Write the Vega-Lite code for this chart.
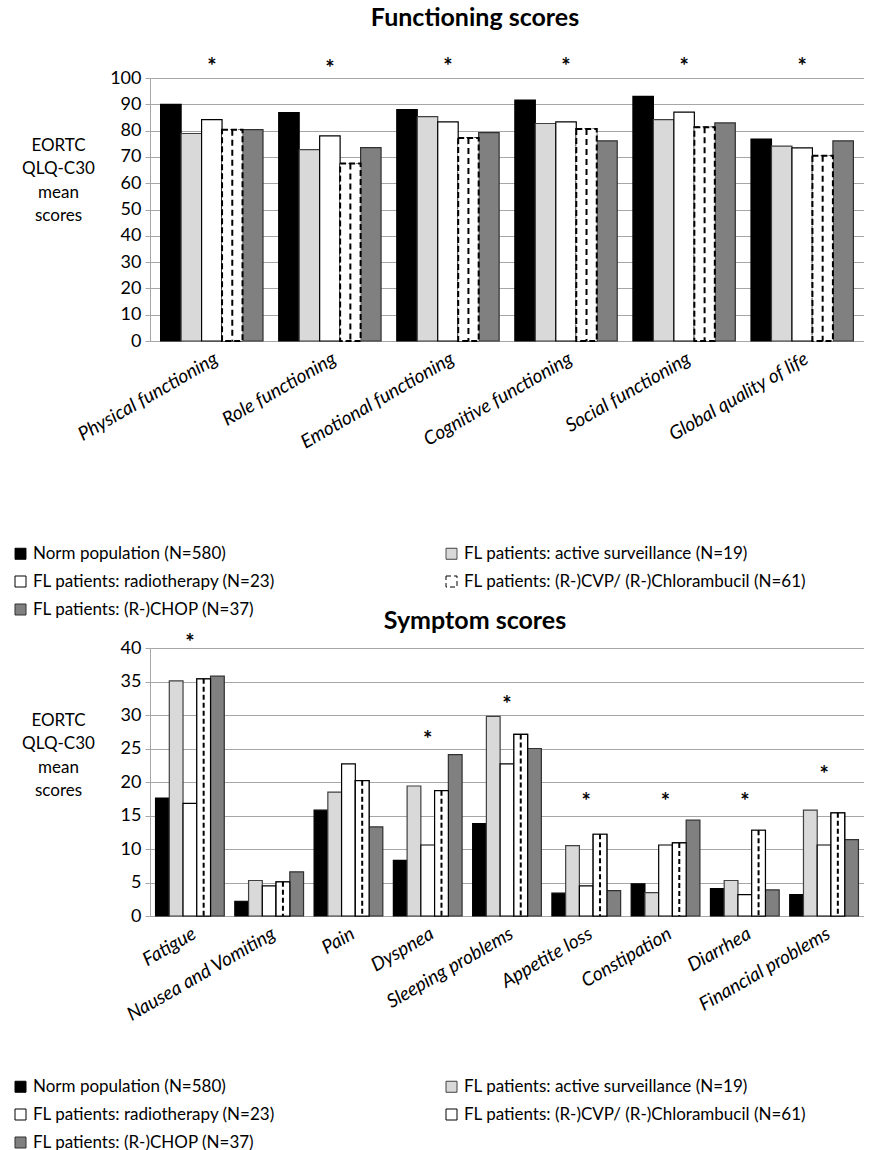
{
  "$schema": "https://vega.github.io/schema/vega-lite/v6.json",
  "padding": {"left": 12, "top": 6, "right": 0, "bottom": 0},
  "bounds": "flush",
  "spacing": 307,
  "resolve": {
    "scale": {"x": "independent", "y": "independent", "xOffset": "independent", "fill": "independent", "stroke": "independent", "strokeDash": "independent"},
    "legend": {"fill": "independent", "stroke": "independent", "strokeDash": "independent"}
  },
  "config": {
    "font": "Lato",
    "view": {"stroke": null},
    "axis": {"labelFont": "Lato", "titleFont": "Lato", "labelColor": "#000000", "titleColor": "#000000", "domainColor": "#a6a6a6", "gridColor": "#a6a6a6", "tickColor": "#a6a6a6"},
    "legend": {"labelFont": "Lato", "labelFontSize": 17, "labelColor": "#000000", "symbolType": "square", "symbolSize": 121, "symbolStrokeWidth": 1, "labelLimit": 0}
  },
  "datasets": {
    "functioning": [
      {"domain": "Physical functioning", "group": "Norm population (N=580)", "value": 90.0},
      {"domain": "Physical functioning", "group": "FL patients: active surveillance (N=19)", "value": 78.9},
      {"domain": "Physical functioning", "group": "FL patients: radiotherapy (N=23)", "value": 84.2},
      {"domain": "Physical functioning", "group": "FL patients: (R-)CVP/ (R-)Chlorambucil (N=61)", "value": 80.3},
      {"domain": "Physical functioning", "group": "FL patients: (R-)CHOP (N=37)", "value": 80.4},
      {"domain": "Role functioning", "group": "Norm population (N=580)", "value": 86.8},
      {"domain": "Role functioning", "group": "FL patients: active surveillance (N=19)", "value": 72.8},
      {"domain": "Role functioning", "group": "FL patients: radiotherapy (N=23)", "value": 78.0},
      {"domain": "Role functioning", "group": "FL patients: (R-)CVP/ (R-)Chlorambucil (N=61)", "value": 67.5},
      {"domain": "Role functioning", "group": "FL patients: (R-)CHOP (N=37)", "value": 73.5},
      {"domain": "Emotional functioning", "group": "Norm population (N=580)", "value": 88.0},
      {"domain": "Emotional functioning", "group": "FL patients: active surveillance (N=19)", "value": 85.3},
      {"domain": "Emotional functioning", "group": "FL patients: radiotherapy (N=23)", "value": 83.3},
      {"domain": "Emotional functioning", "group": "FL patients: (R-)CVP/ (R-)Chlorambucil (N=61)", "value": 77.2},
      {"domain": "Emotional functioning", "group": "FL patients: (R-)CHOP (N=37)", "value": 79.2},
      {"domain": "Cognitive functioning", "group": "Norm population (N=580)", "value": 91.6},
      {"domain": "Cognitive functioning", "group": "FL patients: active surveillance (N=19)", "value": 82.7},
      {"domain": "Cognitive functioning", "group": "FL patients: radiotherapy (N=23)", "value": 83.3},
      {"domain": "Cognitive functioning", "group": "FL patients: (R-)CVP/ (R-)Chlorambucil (N=61)", "value": 80.6},
      {"domain": "Cognitive functioning", "group": "FL patients: (R-)CHOP (N=37)", "value": 76.1},
      {"domain": "Social functioning", "group": "Norm population (N=580)", "value": 93.0},
      {"domain": "Social functioning", "group": "FL patients: active surveillance (N=19)", "value": 84.2},
      {"domain": "Social functioning", "group": "FL patients: radiotherapy (N=23)", "value": 87.0},
      {"domain": "Social functioning", "group": "FL patients: (R-)CVP/ (R-)Chlorambucil (N=61)", "value": 81.3},
      {"domain": "Social functioning", "group": "FL patients: (R-)CHOP (N=37)", "value": 82.9},
      {"domain": "Global quality of life", "group": "Norm population (N=580)", "value": 76.8},
      {"domain": "Global quality of life", "group": "FL patients: active surveillance (N=19)", "value": 74.1},
      {"domain": "Global quality of life", "group": "FL patients: radiotherapy (N=23)", "value": 73.4},
      {"domain": "Global quality of life", "group": "FL patients: (R-)CVP/ (R-)Chlorambucil (N=61)", "value": 70.4},
      {"domain": "Global quality of life", "group": "FL patients: (R-)CHOP (N=37)", "value": 76.1}
    ],
    "functioning_stars": [
      {"domain": "Physical functioning", "star": 106.0},
      {"domain": "Role functioning", "star": 105.2},
      {"domain": "Emotional functioning", "star": 106.0},
      {"domain": "Cognitive functioning", "star": 106.0},
      {"domain": "Social functioning", "star": 106.0},
      {"domain": "Global quality of life", "star": 106.0}
    ],
    "symptom": [
      {"domain": "Fatigue", "group": "Norm population (N=580)", "value": 17.6},
      {"domain": "Fatigue", "group": "FL patients: active surveillance (N=19)", "value": 35.1},
      {"domain": "Fatigue", "group": "FL patients: radiotherapy (N=23)", "value": 16.8},
      {"domain": "Fatigue", "group": "FL patients: (R-)CVP/ (R-)Chlorambucil (N=61)", "value": 35.4},
      {"domain": "Fatigue", "group": "FL patients: (R-)CHOP (N=37)", "value": 35.8},
      {"domain": "Nausea and Vomiting", "group": "Norm population (N=580)", "value": 2.2},
      {"domain": "Nausea and Vomiting", "group": "FL patients: active surveillance (N=19)", "value": 5.3},
      {"domain": "Nausea and Vomiting", "group": "FL patients: radiotherapy (N=23)", "value": 4.5},
      {"domain": "Nausea and Vomiting", "group": "FL patients: (R-)CVP/ (R-)Chlorambucil (N=61)", "value": 5.1},
      {"domain": "Nausea and Vomiting", "group": "FL patients: (R-)CHOP (N=37)", "value": 6.6},
      {"domain": "Pain", "group": "Norm population (N=580)", "value": 15.8},
      {"domain": "Pain", "group": "FL patients: active surveillance (N=19)", "value": 18.5},
      {"domain": "Pain", "group": "FL patients: radiotherapy (N=23)", "value": 22.7},
      {"domain": "Pain", "group": "FL patients: (R-)CVP/ (R-)Chlorambucil (N=61)", "value": 20.2},
      {"domain": "Pain", "group": "FL patients: (R-)CHOP (N=37)", "value": 13.3},
      {"domain": "Dyspnea", "group": "Norm population (N=580)", "value": 8.3},
      {"domain": "Dyspnea", "group": "FL patients: active surveillance (N=19)", "value": 19.4},
      {"domain": "Dyspnea", "group": "FL patients: radiotherapy (N=23)", "value": 10.6},
      {"domain": "Dyspnea", "group": "FL patients: (R-)CVP/ (R-)Chlorambucil (N=61)", "value": 18.7},
      {"domain": "Dyspnea", "group": "FL patients: (R-)CHOP (N=37)", "value": 24.1},
      {"domain": "Sleeping problems", "group": "Norm population (N=580)", "value": 13.8},
      {"domain": "Sleeping problems", "group": "FL patients: active surveillance (N=19)", "value": 29.8},
      {"domain": "Sleeping problems", "group": "FL patients: radiotherapy (N=23)", "value": 22.7},
      {"domain": "Sleeping problems", "group": "FL patients: (R-)CVP/ (R-)Chlorambucil (N=61)", "value": 27.1},
      {"domain": "Sleeping problems", "group": "FL patients: (R-)CHOP (N=37)", "value": 25.0},
      {"domain": "Appetite loss", "group": "Norm population (N=580)", "value": 3.4},
      {"domain": "Appetite loss", "group": "FL patients: active surveillance (N=19)", "value": 10.5},
      {"domain": "Appetite loss", "group": "FL patients: radiotherapy (N=23)", "value": 4.5},
      {"domain": "Appetite loss", "group": "FL patients: (R-)CVP/ (R-)Chlorambucil (N=61)", "value": 12.2},
      {"domain": "Appetite loss", "group": "FL patients: (R-)CHOP (N=37)", "value": 3.8},
      {"domain": "Constipation", "group": "Norm population (N=580)", "value": 4.8},
      {"domain": "Constipation", "group": "FL patients: active surveillance (N=19)", "value": 3.5},
      {"domain": "Constipation", "group": "FL patients: radiotherapy (N=23)", "value": 10.6},
      {"domain": "Constipation", "group": "FL patients: (R-)CVP/ (R-)Chlorambucil (N=61)", "value": 10.9},
      {"domain": "Constipation", "group": "FL patients: (R-)CHOP (N=37)", "value": 14.3},
      {"domain": "Diarrhea", "group": "Norm population (N=580)", "value": 4.1},
      {"domain": "Diarrhea", "group": "FL patients: active surveillance (N=19)", "value": 5.3},
      {"domain": "Diarrhea", "group": "FL patients: radiotherapy (N=23)", "value": 3.2},
      {"domain": "Diarrhea", "group": "FL patients: (R-)CVP/ (R-)Chlorambucil (N=61)", "value": 12.8},
      {"domain": "Diarrhea", "group": "FL patients: (R-)CHOP (N=37)", "value": 3.9},
      {"domain": "Financial problems", "group": "Norm population (N=580)", "value": 3.2},
      {"domain": "Financial problems", "group": "FL patients: active surveillance (N=19)", "value": 15.8},
      {"domain": "Financial problems", "group": "FL patients: radiotherapy (N=23)", "value": 10.6},
      {"domain": "Financial problems", "group": "FL patients: (R-)CVP/ (R-)Chlorambucil (N=61)", "value": 15.4},
      {"domain": "Financial problems", "group": "FL patients: (R-)CHOP (N=37)", "value": 11.4}
    ],
    "symptom_stars": [
      {"domain": "Fatigue", "star": 41.5},
      {"domain": "Dyspnea", "star": 27.0},
      {"domain": "Sleeping problems", "star": 32.3},
      {"domain": "Appetite loss", "star": 17.8},
      {"domain": "Constipation", "star": 17.8},
      {"domain": "Diarrhea", "star": 17.8},
      {"domain": "Financial problems", "star": 21.8}
    ]
  },
  "vconcat": [
    {
      "title": {"text": "Functioning scores", "fontSize": 25, "fontWeight": "bold", "font": "Lato", "anchor": "middle", "dx": -32, "offset": 25, "color": "#000000"},
      "width": 714,
      "height": 263,
      "layer": [
        {
          "data": {"name": "functioning"},
          "mark": {"type": "bar", "strokeWidth": 1.2},
          "encoding": {
            "x": {"field": "domain", "type": "nominal", "sort": null,
              "scale": {"paddingInner": 0.133, "paddingOuter": 0.09},
              "axis": {"title": null, "labelAngle": -30, "labelFontSize": 19, "labelFontStyle": "italic", "ticks": false, "labelPadding": 8, "labelLimit": 0}},
            "xOffset": {"field": "group", "type": "nominal", "sort": null,
              "scale": {"paddingInner": 0, "paddingOuter": 0, "domain": ["Norm population (N=580)", "FL patients: active surveillance (N=19)", "FL patients: radiotherapy (N=23)", "FL patients: (R-)CVP/ (R-)Chlorambucil (N=61)", "FL patients: (R-)CHOP (N=37)"]}},
            "y": {"field": "value", "type": "quantitative",
              "scale": {"domain": [0, 100], "nice": false},
              "axis": {"values": [0, 10, 20, 30, 40, 50, 60, 70, 80, 90, 100], "labelFontSize": 18, "tickSize": 5, "labelPadding": 4, "labelOverlap": false,
                "title": ["EORTC", "QLQ-C30", "mean", "scores"], "titleAngle": 0, "titleAlign": "center", "titleBaseline": "top", "titleX": -92, "titleY": 59, "titleFontSize": 17, "titleFontWeight": "normal", "titleLineHeight": 23.5}},
            "fill": {"field": "group", "type": "nominal", "sort": null,
              "scale": {"domain": ["Norm population (N=580)", "FL patients: active surveillance (N=19)", "FL patients: radiotherapy (N=23)", "FL patients: (R-)CVP/ (R-)Chlorambucil (N=61)", "FL patients: (R-)CHOP (N=37)"], "range": ["#000000", "#d9d9d9", "#ffffff", "#ffffff", "#808080"]},
              "legend": {"orient": "none", "legendX": -138, "legendY": 467, "columns": 2, "direction": "horizontal", "title": null, "rowPadding": 10, "columnPadding": 167, "labelOffset": 4}},
            "stroke": {"field": "group", "type": "nominal", "sort": null,
              "scale": {"domain": ["Norm population (N=580)", "FL patients: active surveillance (N=19)", "FL patients: radiotherapy (N=23)", "FL patients: (R-)CVP/ (R-)Chlorambucil (N=61)", "FL patients: (R-)CHOP (N=37)"], "range": ["#000000", "#404040", "#000000", "#000000", "#303030"]},
              "legend": {"orient": "none", "legendX": -138, "legendY": 467, "columns": 2, "direction": "horizontal", "title": null, "rowPadding": 10, "columnPadding": 167, "labelOffset": 4}},
            "strokeDash": {"field": "group", "type": "nominal", "sort": null,
              "scale": {"domain": ["Norm population (N=580)", "FL patients: active surveillance (N=19)", "FL patients: radiotherapy (N=23)", "FL patients: (R-)CVP/ (R-)Chlorambucil (N=61)", "FL patients: (R-)CHOP (N=37)"], "range": [[1, 0], [1, 0], [1, 0], [5, 3], [1, 0]]},
              "legend": {"orient": "none", "legendX": -138, "legendY": 467, "columns": 2, "direction": "horizontal", "title": null, "rowPadding": 10, "columnPadding": 167, "labelOffset": 4}}
          }
        },
        {
          "data": {"name": "functioning"},
          "transform": [{"filter": "datum.group === 'FL patients: (R-)CVP/ (R-)Chlorambucil (N=61)'"}],
          "mark": {"type": "bar", "fill": "#ffffff", "stroke": "#000000", "strokeWidth": 2, "strokeDash": [6, 3]},
          "encoding": {
            "x": {"field": "domain", "type": "nominal", "sort": null},
            "xOffset": {"field": "group", "type": "nominal", "sort": null},
            "y": {"field": "value", "type": "quantitative", "scale": {"domain": [0, 100], "nice": false},
              "axis": {"values": [0, 10, 20, 30, 40, 50, 60, 70, 80, 90, 100], "labelFontSize": 18, "tickSize": 5, "labelPadding": 4, "labelOverlap": false,
                "title": ["EORTC", "QLQ-C30", "mean", "scores"], "titleAngle": 0, "titleAlign": "center", "titleBaseline": "top", "titleX": -92, "titleY": 59, "titleFontSize": 17, "titleFontWeight": "normal", "titleLineHeight": 23.5}}
          }
        },
        {
          "data": {"name": "functioning"},
          "transform": [{"filter": "datum.group === 'FL patients: (R-)CVP/ (R-)Chlorambucil (N=61)'"}],
          "mark": {"type": "rule", "strokeDash": [6, 4], "strokeWidth": 2, "color": "#000000"},
          "encoding": {
            "x": {"field": "domain", "type": "nominal", "sort": null},
            "xOffset": {"field": "group", "type": "nominal", "sort": null},
            "y": {"field": "value", "type": "quantitative", "scale": {"domain": [0, 100], "nice": false},
              "axis": {"values": [0, 10, 20, 30, 40, 50, 60, 70, 80, 90, 100], "labelFontSize": 18, "tickSize": 5, "labelPadding": 4, "labelOverlap": false,
                "title": ["EORTC", "QLQ-C30", "mean", "scores"], "titleAngle": 0, "titleAlign": "center", "titleBaseline": "top", "titleX": -92, "titleY": 59, "titleFontSize": 17, "titleFontWeight": "normal", "titleLineHeight": 23.5}},
            "y2": {"datum": 0}
          }
        },
        {
          "data": {"name": "functioning_stars"},
          "mark": {"type": "text", "text": "*", "fontSize": 22, "fontWeight": "bold", "baseline": "middle", "dy": 5, "color": "#000000"},
          "encoding": {
            "x": {"field": "domain", "type": "nominal", "sort": null},
            "y": {"field": "star", "type": "quantitative", "scale": {"domain": [0, 100], "nice": false},
              "axis": {"values": [0, 10, 20, 30, 40, 50, 60, 70, 80, 90, 100], "labelFontSize": 18, "tickSize": 5, "labelPadding": 4, "labelOverlap": false,
                "title": ["EORTC", "QLQ-C30", "mean", "scores"], "titleAngle": 0, "titleAlign": "center", "titleBaseline": "top", "titleX": -92, "titleY": 59, "titleFontSize": 17, "titleFontWeight": "normal", "titleLineHeight": 23.5}}
          }
        }
      ]
    },
    {
      "title": {"text": "Symptom scores", "fontSize": 25, "fontWeight": "bold", "font": "Lato", "anchor": "middle", "dx": -32, "offset": -2, "color": "#000000"},
      "width": 714,
      "height": 268,
      "layer": [
        {
          "data": {"name": "symptom"},
          "mark": {"type": "bar", "strokeWidth": 1.2},
          "encoding": {
            "x": {"field": "domain", "type": "nominal", "sort": null,
              "scale": {"paddingInner": 0.133, "paddingOuter": 0.07},
              "axis": {"title": null, "labelAngle": -30, "labelFontSize": 19, "labelFontStyle": "italic", "ticks": false, "labelPadding": 8, "labelLimit": 0}},
            "xOffset": {"field": "group", "type": "nominal", "sort": null,
              "scale": {"paddingInner": 0, "paddingOuter": 0, "domain": ["Norm population (N=580)", "FL patients: active surveillance (N=19)", "FL patients: radiotherapy (N=23)", "FL patients: (R-)CVP/ (R-)Chlorambucil (N=61)", "FL patients: (R-)CHOP (N=37)"]}},
            "y": {"field": "value", "type": "quantitative",
              "scale": {"domain": [0, 40], "nice": false},
              "axis": {"values": [0, 5, 10, 15, 20, 25, 30, 35, 40], "labelFontSize": 18, "tickSize": 5, "labelPadding": 4, "labelOverlap": false,
                "title": ["EORTC", "QLQ-C30", "mean", "scores"], "titleAngle": 0, "titleAlign": "center", "titleBaseline": "top", "titleX": -92, "titleY": 64, "titleFontSize": 17, "titleFontWeight": "normal", "titleLineHeight": 23.5}},
            "fill": {"field": "group", "type": "nominal", "sort": null,
              "scale": {"domain": ["Norm population (N=580)", "FL patients: active surveillance (N=19)", "FL patients: radiotherapy (N=23)", "FL patients: (R-)CVP/ (R-)Chlorambucil (N=61)", "FL patients: (R-)CHOP (N=37)"], "range": ["#000000", "#d9d9d9", "#ffffff", "#ffffff", "#808080"]},
              "legend": {"orient": "none", "legendX": -138, "legendY": 430, "columns": 2, "direction": "horizontal", "title": null, "rowPadding": 10, "columnPadding": 167, "labelOffset": 4}},
            "stroke": {"field": "group", "type": "nominal", "sort": null,
              "scale": {"domain": ["Norm population (N=580)", "FL patients: active surveillance (N=19)", "FL patients: radiotherapy (N=23)", "FL patients: (R-)CVP/ (R-)Chlorambucil (N=61)", "FL patients: (R-)CHOP (N=37)"], "range": ["#000000", "#404040", "#000000", "#000000", "#303030"]},
              "legend": {"orient": "none", "legendX": -138, "legendY": 430, "columns": 2, "direction": "horizontal", "title": null, "rowPadding": 10, "columnPadding": 167, "labelOffset": 4}}
          }
        },
        {
          "data": {"name": "symptom"},
          "transform": [{"filter": "datum.group === 'FL patients: (R-)CVP/ (R-)Chlorambucil (N=61)'"}],
          "mark": {"type": "bar", "fill": "#ffffff", "stroke": "#000000", "strokeWidth": 1.2},
          "encoding": {
            "x": {"field": "domain", "type": "nominal", "sort": null},
            "xOffset": {"field": "group", "type": "nominal", "sort": null},
            "y": {"field": "value", "type": "quantitative", "scale": {"domain": [0, 40], "nice": false},
              "axis": {"values": [0, 5, 10, 15, 20, 25, 30, 35, 40], "labelFontSize": 18, "tickSize": 5, "labelPadding": 4, "labelOverlap": false,
                "title": ["EORTC", "QLQ-C30", "mean", "scores"], "titleAngle": 0, "titleAlign": "center", "titleBaseline": "top", "titleX": -92, "titleY": 64, "titleFontSize": 17, "titleFontWeight": "normal", "titleLineHeight": 23.5}}
          }
        },
        {
          "data": {"name": "symptom"},
          "transform": [{"filter": "datum.group === 'FL patients: (R-)CVP/ (R-)Chlorambucil (N=61)'"}],
          "mark": {"type": "rule", "strokeDash": [5, 3], "strokeWidth": 2, "color": "#000000"},
          "encoding": {
            "x": {"field": "domain", "type": "nominal", "sort": null},
            "xOffset": {"field": "group", "type": "nominal", "sort": null},
            "y": {"field": "value", "type": "quantitative", "scale": {"domain": [0, 40], "nice": false},
              "axis": {"values": [0, 5, 10, 15, 20, 25, 30, 35, 40], "labelFontSize": 18, "tickSize": 5, "labelPadding": 4, "labelOverlap": false,
                "title": ["EORTC", "QLQ-C30", "mean", "scores"], "titleAngle": 0, "titleAlign": "center", "titleBaseline": "top", "titleX": -92, "titleY": 64, "titleFontSize": 17, "titleFontWeight": "normal", "titleLineHeight": 23.5}},
            "y2": {"datum": 0}
          }
        },
        {
          "data": {"name": "symptom_stars"},
          "mark": {"type": "text", "text": "*", "fontSize": 22, "fontWeight": "bold", "baseline": "middle", "dy": 5, "color": "#000000"},
          "encoding": {
            "x": {"field": "domain", "type": "nominal", "sort": null},
            "y": {"field": "star", "type": "quantitative", "scale": {"domain": [0, 40], "nice": false},
              "axis": {"values": [0, 5, 10, 15, 20, 25, 30, 35, 40], "labelFontSize": 18, "tickSize": 5, "labelPadding": 4, "labelOverlap": false,
                "title": ["EORTC", "QLQ-C30", "mean", "scores"], "titleAngle": 0, "titleAlign": "center", "titleBaseline": "top", "titleX": -92, "titleY": 64, "titleFontSize": 17, "titleFontWeight": "normal", "titleLineHeight": 23.5}}
          }
        }
      ]
    }
  ]
}
